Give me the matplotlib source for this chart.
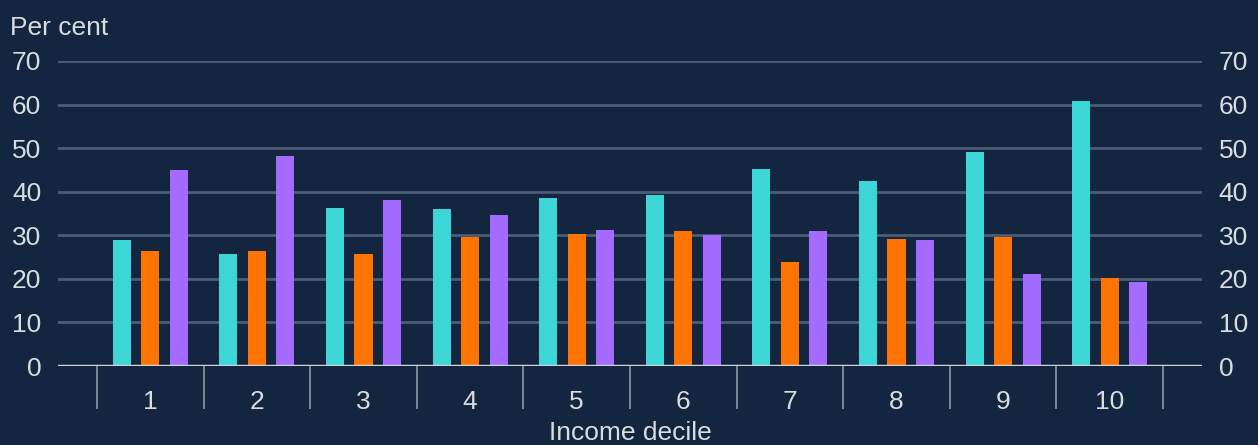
import numpy as np
import matplotlib.pyplot as plt

plt.rcParams['font.family'] = ['Liberation Sans', 'DejaVu Sans']

deciles = ['1', '2', '3', '4', '5', '6', '7', '8', '9', '10']
series_a = [28.9, 25.6, 36.3, 36.1, 38.5, 39.2, 45.2, 42.4, 49.2, 60.9]   # cyan
series_b = [26.3, 26.4, 25.7, 29.6, 30.4, 30.9, 23.9, 29.1, 29.6, 20.2]   # orange
series_c = [45.0, 48.2, 38.0, 34.6, 31.2, 30.1, 30.9, 28.9, 21.2, 19.2]   # purple
yticks = [0, 10, 20, 30, 40, 50, 60, 70]

bg = '#13253f'
txt = '#d9dce1'
colors = ['#3dd6d6', '#ff7300', '#a36bff']

fig = plt.figure(figsize=(12.58, 4.45), dpi=100, facecolor=bg)
ax = fig.add_axes([58 / 1258, 1 - 366 / 445, (1202 - 58) / 1258, (366 - 61) / 445])
ax.set_facecolor(bg)

x = np.arange(1, len(deciles) + 1)
w = 0.169
off = 0.267
for i, (vals, c) in enumerate(zip([series_a, series_b, series_c], colors)):
    ax.bar(x + (i - 1) * off, vals, width=w, color=c, zorder=3)

ax.set_ylim(0, 70)
ax.set_xlim(0.134, 10.866)

# grid
for t in yticks[1:]:
    ax.axhline(t, color='#4b5e78', lw=2, zorder=1)
ax.axhline(0, color='#d0d3d8', lw=2.5, zorder=4)

for s in ax.spines.values():
    s.set_visible(False)

# x axis: boundary ticks long, labels at centres
ax.set_xticks(np.arange(0.5, 11, 1))
ax.set_xticklabels([])
ax.tick_params(axis='x', which='major', length=31, width=1.2, color='#8d97a5', direction='out')
ax.set_xticks(x, minor=True)
ax.set_xticklabels(deciles, minor=True)
ax.tick_params(axis='x', which='minor', length=0, pad=17, labelsize=19, labelcolor=txt)

ax.set_yticks(yticks)
ax.tick_params(axis='y', which='both', length=0, labelsize=19, labelcolor=txt, pad=12,
               labelleft=True, labelright=True)

ax.set_xlabel('Income decile', fontsize=19, color=txt, labelpad=5)
fig.text(10 / 1258, 1 - 28 / 445, 'Per cent', fontsize=19, color=txt, va='center', ha='left')

plt.savefig('out.png', dpi=100, facecolor=bg)
